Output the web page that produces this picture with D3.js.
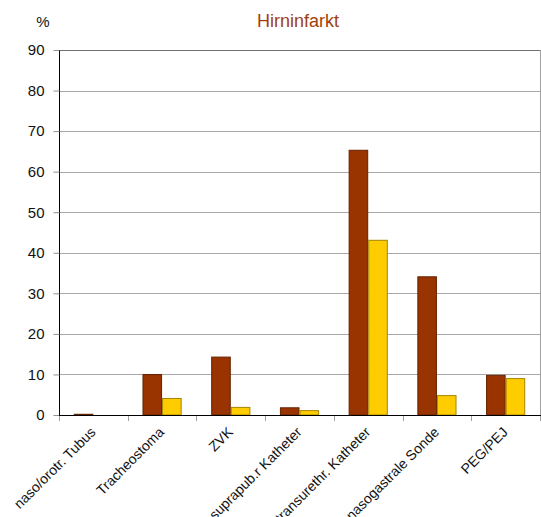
<!DOCTYPE html>
<html><head><meta charset="utf-8">
<script src="https://cdn.jsdelivr.net/npm/d3@7"></script>
<style>body{margin:0;background:#fff}svg{display:block}text{font-family:"Liberation Sans",Arial,sans-serif}</style>
</head><body><svg id="c" width="541" height="517"></svg>
<script>
const categories = ["naso/orotr. Tubus","Tracheostoma","ZVK","suprapub.r Katheter","transurethr. Katheter","nasogastrale Sonde","PEG/PEJ"];
const series1 = [0.3, 10.1, 14.4, 1.9, 65.4, 34.2, 9.9];
const series2 = [0, 4.2, 2.0, 1.2, 43.2, 4.9, 9.1];
const yTicks = [0,10,20,30,40,50,60,70,80,90];
const title = "Hirninfarkt";
const unit = "%";

const svg = d3.select("#c");
const L = 59, R = 540, T = 50, B = 415;
const x = d3.scaleBand().domain(categories).range([L, R]).paddingInner(0.43).paddingOuter(0.215);
const x0 = d3.scaleBand().domain(categories).range([L, R]);
const y = d3.scaleLinear().domain([0, 90]).range([B, T]);
const sub = d3.scaleBand().domain([0,1]).range([0, x.bandwidth()]);

// gridlines
svg.append("g").selectAll("line").data(yTicks.filter(d => d > 0 && d < 90)).join("line")
  .attr("x1", L).attr("x2", R).attr("y1", d => Math.round(y(d)) + 0.5).attr("y2", d => Math.round(y(d)) + 0.5)
  .attr("stroke", "#a8a8a8");
// top & right border
svg.append("line").attr("x1", L).attr("x2", R).attr("y1", T + 0.5).attr("y2", T + 0.5).attr("stroke", "#707070");
svg.append("line").attr("x1", R + 0.5).attr("x2", R + 0.5).attr("y1", T).attr("y2", B).attr("stroke", "#a0a0a0");

// bars
const cols = [["#993300", "#662200"], ["#FFCC00", "#A68500"]];
[series1, series2].forEach((s, si) => {
  svg.append("g").selectAll("rect").data(categories).join("rect")
    .attr("x", (c) => x(c) + sub(si) + 0.5)
    .attr("y", (c, i) => y(s[i]) + 0.5)
    .attr("width", sub.bandwidth() - 1)
    .attr("height", (c, i) => Math.max(0, y(0) - y(s[i]) - 0.5))
    .attr("fill", cols[si][0]).attr("stroke", cols[si][1]).attr("stroke-width", 1)
    .attr("display", (c, i) => s[i] > 0 ? null : "none");
});

// y axis
const ya = svg.append("g").attr("transform", `translate(${L + 0.5},0)`)
  .call(d3.axisLeft(y).tickValues(yTicks).tickSize(6).tickPadding(9).tickFormat(d3.format("d")));
ya.select(".domain").attr("stroke", "#000").attr("d", `M0,${T}V${B}`);
ya.selectAll(".tick line").attr("stroke", "#909090");
ya.selectAll(".tick text").attr("font-size", 15).attr("fill", "#111").attr("font-family", '"Liberation Sans",Arial,sans-serif');

// x axis
const xa = svg.append("g").attr("transform", `translate(0,${B + 0.5})`)
  .call(d3.axisBottom(x0).tickValues([]).tickSize(0));
xa.select(".domain").attr("stroke", "#000").attr("d", `M${L},0H${R + 1}`);
const bounds = categories.map(c => x0(c)).concat([R]);
svg.append("g").selectAll("line").data(bounds).join("line")
  .attr("x1", d => Math.round(d) + 0.5).attr("x2", d => Math.round(d) + 0.5)
  .attr("y1", B + 1).attr("y2", B + 6).attr("stroke", "#a0a0a0");

svg.append("g").selectAll("text").data(categories).join("text")
  .attr("transform", c => `translate(${x0(c) + x0.bandwidth() / 2 + 3},${B + 18}) rotate(-45)`)
  .attr("text-anchor", "end").attr("font-size", 14).attr("fill", "#111")
  .text(c => c);

svg.append("text").attr("x", 298).attr("y", 27).attr("text-anchor", "middle")
  .attr("font-size", 18).attr("fill", "#A0400F").text(title);
svg.append("text").attr("x", 43).attr("y", 27).attr("text-anchor", "middle")
  .attr("font-size", 15).attr("fill", "#111").text(unit);
</script></body></html>
